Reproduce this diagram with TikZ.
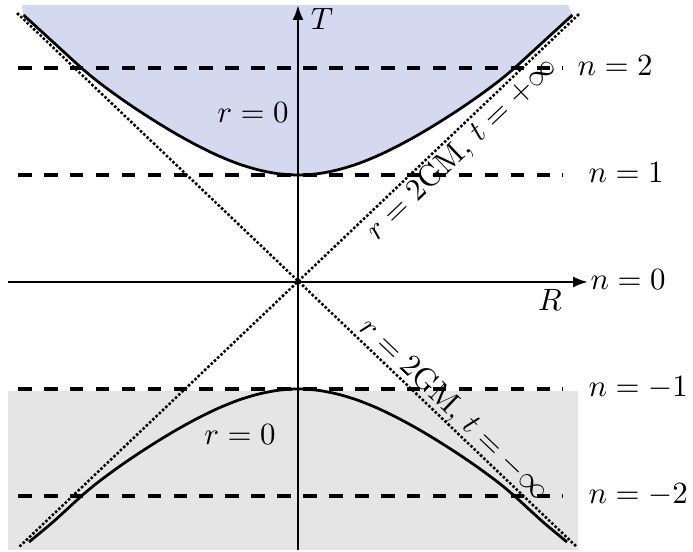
\documentclass[tikz,border=0pt]{standalone}
\usetikzlibrary{arrows.meta}
\definecolor{upblue}{RGB}{213,217,240}
\definecolor{lowgrey}{RGB}{229,229,229}
\begin{document}
\begin{tikzpicture}[x=0.324pt,y=-0.324pt,
  axis/.style={line width=0.85pt,-{Latex[length=4.8pt,width=3.6pt]}},
  slice/.style={line width=1pt,dash pattern=on 4.4pt off 4pt},
  horizon/.style={line width=1.15pt,line cap=round,dash pattern=on 0pt off 1.45pt},
  sing/.style={line width=0.9pt},
  lab/.style={inner sep=0pt}]
\useasboundingbox (0,0) rectangle (693,552);
\def\uppercurve{(23.5,15) (53,42) (81.5,68) (98,81.7) (118,96.5) (138,110.2) (158,123) (178,135) (198,145.9) (218,155.6) (238,163.7) (258,169.8) (278,173.7) (298,175) (318,173.7) (338,169.8) (358,163.7) (378,155.6) (398,145.9) (418,135) (438,123) (458,110.2) (478,96.5) (498,81.7) (514.5,68) (543,42) (572.5,15)}
\def\lowercurve{(29,542) (53,522) (81.5,496) (98,482.3) (118,467.5) (138,453.8) (158,441) (178,429) (198,418.1) (218,408.4) (238,400.3) (258,394.2) (278,390.3) (298,389) (318,390.3) (338,394.2) (358,400.3) (378,408.4) (398,418.1) (418,429) (438,441) (458,453.8) (478,467.5) (498,482.3) (514.5,496) (543,522) (567,542)}
% regions
\fill[upblue] (22,5) -- plot[smooth] coordinates {\uppercurve} -- (568,5) -- cycle;
\fill[lowgrey] (8,391) rectangle (578,550);
% slices
\foreach \yy/\nm in {68/a,175/b,389/c,496/d}{
  \coordinate (sl\nm) at (18,\yy);
  \coordinate (sr\nm) at (563,\yy);
  \draw[slice] (sl\nm) -- (sr\nm);
}
% horizons
\coordinate (hA) at (18,14);
\coordinate (hB) at (578,548);
\coordinate (hC) at (578,15);
\coordinate (hD) at (18,548);
\draw[horizon] (hA) -- (hB);
\draw[horizon] (hC) -- (hD);
% singularities
\draw[sing] plot[smooth] coordinates {\uppercurve};
\draw[sing] plot[smooth] coordinates {\lowercurve};
% axes
\coordinate (Tb) at (298,550);
\coordinate (Tt) at (298,5);
\coordinate (Rl) at (8,282);
\coordinate (Rr) at (588,282);
\draw[axis] (Tb) -- (Tt);
\draw[axis] (Rl) -- (Rr);
% labels
\node[lab] (lT) at (322,19) {$T$};
\node[lab] (lR) at (550,300) {$R$};
\node[lab] (r0u) at (253,113) {$r=0$};
\node[lab] (r0l) at (240,435) {$r=0$};
\node[lab,anchor=base west] (n2) at (577,75.7) {$n=2$};
\node[lab,anchor=base west] (n1) at (588,182.7) {$n=1$};
\node[lab,anchor=base west] (n0) at (590,289.7) {$n=0$};
\node[lab,anchor=base west] (nm1) at (588,396.7) {$n=-1$};
\node[lab,anchor=base west] (nm2) at (588,503.7) {$n=-2$};
\node[inner sep=1pt,anchor=north,rotate=43.7] (hu) at (450,137) {$r=2\mathrm{GM},\,t=+\infty$};
\node[inner sep=0.35pt,anchor=south,rotate=-43.7] (hl) at (443,421) {$r=2\mathrm{GM},\,t=-\infty$};
\end{tikzpicture}
\end{document}
